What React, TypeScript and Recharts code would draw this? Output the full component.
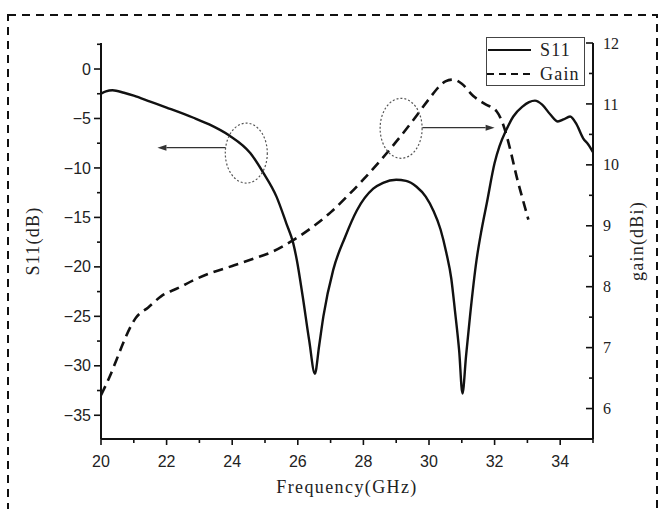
import React from 'react';
import { LineChart, Line, XAxis, YAxis, Legend, ReferenceDot, ReferenceLine } from 'recharts';

// ---- data ----
const s11Freq = [20.0, 20.15, 20.35, 20.7, 21.0, 21.5, 22.0, 22.8, 23.3, 23.9, 24.55, 24.95, 25.35, 25.65, 25.86, 25.97, 26.15, 26.35, 26.52, 26.65, 26.78, 27.08, 27.44, 27.8, 28.3, 28.6, 29.0, 29.3, 29.62, 29.9, 30.13, 30.35, 30.53, 30.68, 30.79, 30.92, 31.02, 31.13, 31.25, 31.45, 31.6, 31.76, 32.0, 32.15, 32.35, 32.57, 32.85, 33.05, 33.23, 33.45, 33.7, 33.93, 34.1, 34.3, 34.5, 34.7, 34.85, 35.0];
const s11Values = [-2.5, -2.25, -2.15, -2.4, -2.7, -3.3, -3.9, -4.9, -5.6, -6.7, -8.5, -10.5, -12.9, -15.6, -17.6, -19.3, -23.0, -27.5, -30.8, -28.0, -25.0, -20.3, -17.0, -14.3, -12.1, -11.5, -11.2, -11.3, -11.9, -12.9, -14.3, -16.2, -18.6, -21.2, -24.4, -28.5, -32.8, -29.0, -25.0, -19.3, -16.3, -13.6, -9.5, -7.8, -6.2, -4.8, -3.8, -3.35, -3.2, -3.6, -4.6, -5.3, -5.1, -4.8, -5.6, -7.0, -7.6, -8.4];

const gainFreq = [20.0, 20.27, 20.48, 20.68, 20.88, 21.05, 21.44, 21.85, 22.36, 22.87, 23.32, 24.0, 24.6, 25.25, 25.85, 26.5, 27.0, 27.5, 28.0, 28.5, 29.0, 29.5, 30.0, 30.3, 30.5, 30.73, 31.0, 31.35, 31.7, 32.06, 32.3, 32.5, 32.67, 32.85, 33.03];
const gainValues = [6.22, 6.53, 6.81, 7.08, 7.32, 7.48, 7.66, 7.85, 7.98, 8.12, 8.22, 8.34, 8.45, 8.58, 8.76, 9.0, 9.22, 9.48, 9.76, 10.06, 10.38, 10.72, 11.08, 11.28, 11.37, 11.4, 11.33, 11.13, 11.0, 10.88, 10.6, 10.2, 9.81, 9.45, 9.1];

const freqTicks = [20, 21, 22, 23, 24, 25, 26, 27, 28, 29, 30, 31, 32, 33, 34, 35];
const freqMajor = [20, 22, 24, 26, 28, 30, 32, 34];
const s11Ticks = [-35, -32.5, -30, -27.5, -25, -22.5, -20, -17.5, -15, -12.5, -10, -7.5, -5, -2.5, 0, 2.5];
const s11Major = [-35, -30, -25, -20, -15, -10, -5, 0];
const gainTicks = [6, 6.5, 7, 7.5, 8, 8.5, 9, 9.5, 10, 10.5, 11, 11.5, 12];
const gainMajor = [6, 7, 8, 9, 10, 11, 12];

const legendNames = ['S11', 'Gain'];

const s11Data = s11Freq.map((f, i) => ({ f, v: s11Values[i] }));
const gainData = gainFreq.map((f, i) => ({ f, v: gainValues[i] }));

// ---- styling ----
const INK = '#111';
const SANS = '"Liberation Sans Narrow", "Liberation Sans", Arial, sans-serif';
const SERIF = '"Liberation Serif", "DejaVu Serif", serif';
const MARGIN = 10;

const fmt = (v: number) => (v < 0 ? '\u2212' + Math.abs(v) : String(v));

const BottomTick = (props: any) => {
  const { x, y, payload } = props;
  const v = payload.value;
  const major = freqMajor.includes(v);
  const ay = y - MARGIN;
  return (
    <g>
      <line x1={x} x2={x} y1={ay} y2={ay + (major ? 6 : 4)} stroke={INK} strokeWidth={1.6} />
      {major && (
        <text x={x} y={ay + 22} dy="0.35em" textAnchor="middle" fontFamily={SANS} fontSize={16} fill="#222">
          {fmt(v)}
        </text>
      )}
    </g>
  );
};

const LeftTick = (props: any) => {
  const { x, y, payload } = props;
  const v = payload.value;
  const major = s11Major.includes(v);
  const ax = x + MARGIN;
  return (
    <g>
      <line x1={ax} x2={ax - (major ? 7 : 4)} y1={y} y2={y} stroke={INK} strokeWidth={1.6} />
      {major && (
        <text x={ax - 10} y={y} dy="0.35em" textAnchor="end" fontFamily={SANS} fontSize={16} fill="#222">
          {fmt(v)}
        </text>
      )}
    </g>
  );
};

const RightTick = (props: any) => {
  const { x, y, payload } = props;
  const v = payload.value;
  const major = gainMajor.includes(v);
  const ax = x - MARGIN;
  return (
    <g>
      <line x1={ax} x2={ax - (major ? 7 : 4)} y1={y} y2={y} stroke={INK} strokeWidth={1.6} />
      {major && (
        <text x={ax + 10} y={y} dy="0.35em" textAnchor="start" fontFamily={SERIF} fontSize={16} fill="#222">
          {fmt(v)}
        </text>
      )}
    </g>
  );
};

const LegendBox = () => (
  <div
    style={{
      width: 99,
      height: 49,
      boxSizing: 'border-box',
      border: '1.5px solid #444',
      background: '#fff',
    }}
  >
    <svg width={96} height={46} style={{ display: 'block' }}>
      <line x1={1} x2={44} y1={12} y2={12} stroke={INK} strokeWidth={2} />
      <text x={53} y={12} dy="0.35em" fontFamily={SERIF} fontSize={18} letterSpacing={1.2} fill="#222">
        {legendNames[0]}
      </text>
      <line x1={0} x2={44} y1={36} y2={36} stroke={INK} strokeWidth={2.2} strokeDasharray="7 5" />
      <text x={53} y={36} dy="0.35em" fontFamily={SERIF} fontSize={18} letterSpacing={1.2} fill="#222">
        {legendNames[1]}
      </text>
    </svg>
  </div>
);

const makeEllipse = (rx: number, ry: number) => (p: any) => (
  <ellipse cx={p.cx} cy={p.cy} rx={rx} ry={ry} fill="none" stroke="#555" strokeWidth={1.2} strokeDasharray="2 2" />
);

const Arrow = (p: any) => {
  const { x1, y1, x2, y2 } = p;
  const dx = x2 - x1;
  const dy = y2 - y1;
  const len = Math.sqrt(dx * dx + dy * dy) || 1;
  const ux = dx / len;
  const uy = dy / len;
  const hl = 9;
  const hw = 3;
  const bx = x2 - ux * hl;
  const by = y2 - uy * hl;
  return (
    <g>
      <line x1={x1} y1={y1} x2={bx} y2={by} stroke="#333" strokeWidth={1.3} />
      <polygon
        points={`${x2},${y2} ${bx - uy * hw},${by + ux * hw} ${bx + uy * hw},${by - ux * hw}`}
        fill="#333"
      />
    </g>
  );
};

export default function App() {
  return (
    <div style={{ position: 'absolute', left: 0, top: 0, width: 658, height: 509, background: '#fff', overflow: 'hidden' }}>
      <LineChart width={658} height={509} margin={{ top: 43, right: 25, bottom: 40, left: 41 }}>
        <XAxis
          dataKey="f"
          type="number"
          domain={[20, 35]}
          ticks={freqTicks}
          interval={0}
          allowDataOverflow
          height={30}
          tickSize={0}
          tickMargin={MARGIN}
          tickLine={false}
          tick={<BottomTick />}
          axisLine={{ stroke: INK, strokeWidth: 2 }}
        />
        <YAxis
          yAxisId="left"
          orientation="left"
          type="number"
          domain={[-37.4, 2.63]}
          ticks={s11Ticks}
          interval={0}
          allowDataOverflow
          width={60}
          tickSize={0}
          tickMargin={MARGIN}
          tickLine={false}
          tick={<LeftTick />}
          axisLine={{ stroke: INK, strokeWidth: 2 }}
        />
        <YAxis
          yAxisId="right"
          orientation="right"
          type="number"
          domain={[5.5, 12]}
          ticks={gainTicks}
          interval={0}
          allowDataOverflow
          width={40}
          tickSize={0}
          tickMargin={MARGIN}
          tickLine={false}
          tick={<RightTick />}
          axisLine={{ stroke: INK, strokeWidth: 2 }}
        />
        <Legend
          layout="horizontal"
          verticalAlign="middle"
          align="center"
          content={<LegendBox />}
          wrapperStyle={{ left: 486, top: 37, width: 99, height: 49 }}
        />
        <Line
          data={s11Data}
          dataKey="v"
          name={legendNames[0]}
          yAxisId="left"
          type="monotoneX"
          stroke={INK}
          strokeWidth={2.4}
          dot={false}
          activeDot={false}
          isAnimationActive={false}
        />
        <Line
          data={gainData}
          dataKey="v"
          name={legendNames[1]}
          yAxisId="right"
          type="monotoneX"
          stroke={INK}
          strokeWidth={2.6}
          strokeDasharray="10 6"
          dot={false}
          activeDot={false}
          isAnimationActive={false}
        />
        <ReferenceDot yAxisId="left" x={24.43} y={-8.5} r={1} shape={makeEllipse(21, 30)} />
        <ReferenceLine yAxisId="left" segment={[{ x: 23.8, y: -7.95 }, { x: 21.72, y: -7.95 }]} shape={Arrow} />
        <ReferenceDot yAxisId="right" x={29.15} y={10.6} r={1} shape={makeEllipse(21, 30)} />
        <ReferenceLine yAxisId="right" segment={[{ x: 29.8, y: 10.61 }, { x: 32.0, y: 10.61 }]} shape={Arrow} />
      </LineChart>
      <svg width={658} height={509} style={{ position: 'absolute', left: 0, top: 0, pointerEvents: 'none' }}>
        <rect x={8} y={15} width={649} height={530} fill="none" stroke={INK} strokeWidth={2} strokeDasharray="8 6" />
        <text
          transform="translate(33,241) rotate(-90)"
          textAnchor="middle"
          dy="0.35em"
          fontFamily={SERIF}
          fontSize={18}
          letterSpacing={1.2}
          fill="#222"
        >
          S11(dB)
        </text>
        <text
          transform="translate(637,241) rotate(-90)"
          textAnchor="middle"
          dy="0.35em"
          fontFamily={SERIF}
          fontSize={18}
          letterSpacing={1.2}
          fill="#222"
        >
          gain(dBi)
        </text>
        <text x={347} y={487} textAnchor="middle" dy="0.35em" fontFamily={SERIF} fontSize={18} letterSpacing={1.4} fill="#222">
          Frequency(GHz)
        </text>
      </svg>
    </div>
  );
}
